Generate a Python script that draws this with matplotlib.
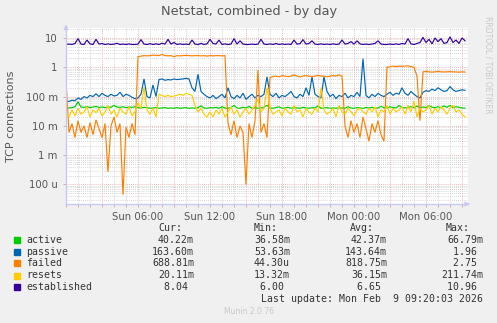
import numpy as np
import matplotlib
matplotlib.use("Agg")
import matplotlib.pyplot as plt
from matplotlib.ticker import FixedLocator, LogLocator, NullFormatter

# ---------------- data (5 series, 15-minute samples from Sun 00:00) ----------------
series_names = ["active", "passive", "failed", "resets", "established"]
series_colors = ["#00CC00", "#0066B3", "#FF8000", "#FFCC00", "#330099"]

active = [0.04, 0.041, 0.042, 0.045, 0.066, 0.044, 0.043, 0.045, 0.042, 0.044,
          0.046, 0.043, 0.044, 0.042, 0.045, 0.043, 0.05, 0.044, 0.043, 0.045,
          0.042, 0.044, 0.043, 0.045, 0.042, 0.041, 0.043, 0.042, 0.04, 0.041,
          0.042, 0.04, 0.041, 0.042, 0.04, 0.041, 0.04, 0.042, 0.04, 0.041,
          0.042, 0.04, 0.041, 0.04, 0.042, 0.048, 0.041, 0.04, 0.042, 0.041,
          0.043, 0.04, 0.045, 0.041, 0.04, 0.042, 0.05, 0.041, 0.04, 0.043,
          0.041, 0.046, 0.04, 0.042, 0.04, 0.041, 0.043, 0.05, 0.041, 0.04,
          0.042, 0.045, 0.04, 0.041, 0.043, 0.04, 0.042, 0.041, 0.04, 0.043,
          0.041, 0.04, 0.042, 0.041, 0.048, 0.04, 0.041, 0.042, 0.04, 0.041,
          0.04, 0.042, 0.041, 0.04, 0.045, 0.041, 0.04, 0.042, 0.041, 0.04,
          0.042, 0.041, 0.043, 0.04, 0.041, 0.046, 0.042, 0.041, 0.045, 0.042,
          0.041, 0.05, 0.042, 0.041, 0.043, 0.045, 0.042, 0.048, 0.041, 0.044,
          0.042, 0.05, 0.043, 0.042, 0.045, 0.042, 0.048, 0.043, 0.05, 0.042,
          0.045, 0.043, 0.041, 0.0402]

passive = [0.07, 0.068, 0.075, 0.072, 0.09, 0.08, 0.1, 0.09, 0.11, 0.1,
           0.125, 0.1, 0.13, 0.11, 0.1, 0.12, 0.105, 0.11, 0.14, 0.1,
           0.12, 0.11, 0.095, 0.085,
           0.09, 0.12, 0.4, 0.1, 0.09, 0.25, 0.1, 0.38, 0.4, 0.36,
           0.38, 0.37, 0.4, 0.38, 0.39, 0.4, 0.42, 0.4, 0.2, 0.15,
           0.58, 0.15, 0.12, 0.1,
           0.09, 0.11, 0.085, 0.1, 0.12, 0.09, 0.2, 0.1, 0.085, 0.11,
           0.09, 0.13, 0.08, 0.1, 0.12, 0.09, 0.11, 0.1, 0.12,
           0.47,
           0.12, 0.1, 0.13, 0.09, 0.11, 0.1, 0.12, 0.15, 0.1, 0.09,
           0.12, 0.1, 0.2, 0.11, 0.47, 0.12, 0.1, 0.09, 0.47, 0.15,
           0.1, 0.12, 0.085, 0.11, 0.1, 0.13, 0.09, 0.11, 0.1, 0.14,
           0.1, 1.96,
           0.11, 0.09, 0.12, 0.1, 0.13, 0.11, 0.1, 0.12, 0.14, 0.11,
           0.13, 0.12, 0.2, 0.13, 0.11, 0.15, 0.12, 0.1, 0.09, 0.14,
           0.16, 0.15, 0.18, 0.16, 0.2, 0.17, 0.15, 0.16, 0.22, 0.17,
           0.15, 0.16, 0.17, 0.1636]

failed = [0.35, 0.006, 0.012, 0.004, 0.015, 0.006, 0.010, 0.004, 0.013, 0.005,
          0.016, 0.008, 0.004, 0.012, 0.00027, 0.010, 0.020, 0.006, 0.012, 0.0000443,
          0.009, 0.004, 0.012, 0.005,
          2.3, 2.4, 2.5, 2.45, 2.5, 2.6, 2.55, 2.5, 2.75, 2.5,
          2.45, 2.5, 2.3, 2.5, 2.45, 2.5, 2.55, 2.5, 2.45, 2.5,
          2.5, 2.45, 2.5, 2.4, 2.5, 2.45, 2.5, 2.5, 2.45, 2.5,
          0.012, 0.005, 0.015, 0.004, 0.010, 0.006, 0.0001, 0.012, 0.004, 0.015,
          0.8, 0.006, 0.012, 0.004,
          0.45, 0.48, 0.5, 0.47, 0.52, 0.5, 0.48, 0.5, 0.55, 0.5,
          0.47, 0.5, 0.52, 0.5, 0.48, 0.5, 0.53, 0.5, 0.5, 0.47,
          0.5, 0.52, 0.5, 0.55, 0.5,
          0.01, 0.004, 0.015, 0.006, 0.012, 0.004, 0.02, 0.008, 0.003, 0.012,
          0.006, 0.015, 0.005, 0.003,
          1.0, 1.05, 1.1, 1.05, 1.1, 1.08, 1.1, 1.12, 1.05, 1.0,
          0.5, 0.015, 0.7, 0.72, 0.7, 0.68, 0.7, 0.72, 0.7, 0.69,
          0.7, 0.71, 0.7, 0.69, 0.68, 0.7, 0.6888]

resets = [0.03, 0.02, 0.035, 0.022, 0.04, 0.025, 0.03, 0.045, 0.02, 0.035,
          0.028, 0.04, 0.022, 0.03, 0.05, 0.025, 0.035, 0.02, 0.04, 0.03,
          0.025, 0.045, 0.022, 0.03,
          0.06, 0.04, 0.21, 0.035, 0.025, 0.04, 0.02, 0.12, 0.11, 0.1,
          0.11, 0.1, 0.105, 0.11, 0.12, 0.11, 0.13, 0.12, 0.11, 0.05,
          0.03, 0.04, 0.025, 0.02,
          0.03, 0.02, 0.035, 0.025, 0.04, 0.02, 0.03, 0.045, 0.025, 0.035,
          0.02, 0.03, 0.04, 0.025, 0.035, 0.05, 0.08, 0.03, 0.04, 0.2,
          0.04, 0.025, 0.03, 0.035, 0.022, 0.04, 0.03, 0.025, 0.05, 0.03,
          0.035, 0.02, 0.04, 0.03, 0.025, 0.04, 0.03, 0.2, 0.035, 0.025,
          0.03, 0.04, 0.02, 0.05, 0.03, 0.025, 0.04, 0.03, 0.022, 0.035,
          0.04, 0.03,
          0.025, 0.04, 0.03, 0.045, 0.02, 0.035, 0.03, 0.05, 0.025, 0.04,
          0.03, 0.035, 0.045, 0.025, 0.05, 0.03, 0.07, 0.02, 0.04, 0.03,
          0.035, 0.05, 0.025, 0.04, 0.03, 0.045, 0.035, 0.025, 0.04, 0.05,
          0.03, 0.035, 0.025, 0.0201]

established = [6.0, 6.2, 6.0, 6.5, 9.5, 6.2, 6.0, 8.5, 6.3, 6.0,
               9.0, 6.2, 6.5, 6.0, 6.3, 6.0, 6.2, 6.6, 6.0, 6.2,
               6.0, 6.3, 6.0, 6.0, 6.2, 8.8, 6.2, 6.0, 6.4, 6.0,
               6.3, 6.0, 6.6, 6.2, 9.0, 6.2, 7.0, 6.0, 6.3, 6.0,
               6.2, 6.0, 8.5, 6.2, 6.0, 6.5, 6.0, 6.3, 9.0, 6.5,
               6.2, 8.5, 6.0, 6.3, 6.0, 6.2, 9.5, 6.2, 8.0, 6.2,
               6.0, 6.0, 6.2, 6.0, 6.2, 9.0, 6.2, 6.0, 6.3, 6.0,
               6.5, 6.0, 6.3, 6.0, 6.2, 6.0, 8.5, 6.2, 6.4, 8.8,
               6.2, 6.5, 8.0, 6.2, 6.0, 6.3, 6.0, 6.2, 6.0, 6.3,
               6.0, 6.2, 8.5, 6.2, 6.5, 7.5, 6.2, 8.0, 6.3, 6.0,
               6.2, 6.0, 6.2, 6.5, 8.0, 6.2, 6.0, 6.0, 6.2, 6.0,
               6.3, 6.0, 6.5, 6.2, 9.5, 6.3, 6.0, 6.5, 7.0, 10.5,
               7.0, 9.0, 6.3, 10.0, 7.5, 9.5, 6.5, 7.0, 10.96, 7.0,
               8.5, 6.5, 10.0, 8.04]

# x tick labels (hours since Sun 00:00)
tick_hours = [6, 12, 18, 24, 30]
tick_labels = ["Sun 06:00", "Sun 12:00", "Sun 18:00", "Mon 00:00", "Mon 06:00"]

# y tick labels
ytick_vals = [1e-4, 1e-3, 1e-2, 1e-1, 1, 10]
ytick_labels = ["100 u", "1 m", "10 m", "100 m", "1", "10"]

# legend table
cur_vals = ["40.22m", "163.60m", "688.81m", "20.11m", "8.04 "]
min_vals = ["36.58m", "53.63m", "44.30u", "13.32m", "6.00 "]
avg_vals = ["42.37m", "143.64m", "818.75m", "36.15m", "6.65 "]
max_vals = ["66.79m", "1.96 ", "2.75 ", "211.74m", "10.96 "]

sample_step_h = 0.25

# ---------------- figure ----------------
W, H = 497, 323
DPI = 100
fig = plt.figure(figsize=(W / DPI, H / DPI), dpi=DPI, facecolor="#F0F0F0")

px_l, px_r, px_t, px_b = 66, 468, 28, 204
ax = fig.add_axes([px_l / W, 1 - px_b / H, (px_r - px_l) / W, (px_b - px_t) / H])
ax.set_facecolor("white")

t = np.arange(len(active)) * sample_step_h
data = {"active": active, "passive": passive, "failed": failed,
        "resets": resets, "established": established}
for name, col in zip(series_names, series_colors):
    ax.plot(t, data[name], color=col, lw=0.85, solid_joinstyle="miter")

ax.set_yscale("log")
ax.set_ylim(2.16e-5, 21.9)
ax.set_xlim(0, (px_r - px_l) / 12.0)

# grid
minor_col = "#C8C8C8"
major_col = "#E8A0A0"
ax.xaxis.set_major_locator(FixedLocator(np.arange(0, 34, 3)))
ax.xaxis.set_minor_locator(FixedLocator(np.arange(0, 34, 1)))
ax.yaxis.set_major_locator(FixedLocator(ytick_vals))
ax.yaxis.set_minor_locator(LogLocator(base=10, subs=np.arange(2, 10)))
ax.yaxis.set_minor_formatter(NullFormatter())
ax.set_yticklabels(ytick_labels)
ax.set_xticklabels(["" for _ in np.arange(0, 34, 3)])
ax.grid(True, which="minor", color=minor_col, lw=0.6, linestyle=(0, (1, 1.5)))
ax.grid(True, which="major", color=major_col, lw=0.6, linestyle=(0, (1, 1.5)))
ax.set_axisbelow(True)

for sp in ["top", "right"]:
    ax.spines[sp].set_visible(False)
for sp in ["left", "bottom"]:
    ax.spines[sp].set_color("#C8C8F0")
    ax.spines[sp].set_linewidth(1.0)

ax.tick_params(which="both", length=2, width=0.6, color="#C8A0A0", labelsize=7.3,
               labelcolor="#555555", pad=4)
ax.tick_params(axis="x", which="major", labelbottom=False)
ax.tick_params(axis="y", which="minor", length=0)

# x labels at 6h
for h, lab in zip(tick_hours, tick_labels):
    ax.text(h, -0.045, lab, transform=ax.get_xaxis_transform(), ha="center", va="top",
            fontsize=7.3, color="#555555", family="DejaVu Sans")

# arrows
ax.annotate("", xy=(1.012, 0), xycoords="axes fraction", xytext=(0.99, 0),
            arrowprops=dict(arrowstyle="-|>", color="#C8C8F0", lw=0.8, mutation_scale=7),
            annotation_clip=False)
ax.annotate("", xy=(0, 1.035), xycoords="axes fraction", xytext=(0, 0.99),
            arrowprops=dict(arrowstyle="-|>", color="#C8C8F0", lw=0.8, mutation_scale=7),
            annotation_clip=False)

# titles
fig.text(249 / W, 1 - 12 / H, "Netstat, combined - by day", ha="center", va="center",
         fontsize=9.3, color="#555555")
fig.text(11 / W, 1 - 116 / H, "TCP connections", rotation=90, ha="center", va="center",
         fontsize=8, color="#555555")
fig.text(488 / W, 1 - 65 / H, "RRDTOOL / TOBI OETIKER", rotation=270, ha="center",
         va="center", fontsize=5.5, color="#C8C8C8")
fig.text(249 / W, 1 - 312 / H, "Munin 2.0.76", ha="center", va="center",
         fontsize=5.5, color="#C8C8C8")

# legend table
mono = "DejaVu Sans Mono"
fs = 7.1
tc = "#333333"
row_y = [240, 251.7, 263.3, 275.5, 287.3]
fig.text(182 / W, 1 - 228 / H, "Cur:", ha="right", va="center", family=mono, fontsize=fs, color=tc)
fig.text(278 / W, 1 - 228 / H, "Min:", ha="right", va="center", family=mono, fontsize=fs, color=tc)
fig.text(374 / W, 1 - 228 / H, "Avg:", ha="right", va="center", family=mono, fontsize=fs, color=tc)
fig.text(470 / W, 1 - 228 / H, "Max:", ha="right", va="center", family=mono, fontsize=fs, color=tc)
for i, (name, col) in enumerate(zip(series_names, series_colors)):
    y = 1 - row_y[i] / H
    fig.patches.append(plt.Rectangle((14 / W, y - 3 / H), 6 / W, 6 / H, transform=fig.transFigure,
                                     color=col, figure=fig))
    fig.text(26 / W, y, name, ha="left", va="center", family=mono, fontsize=fs, color=tc)
    fig.text(194 / W, y, cur_vals[i], ha="right", va="center", family=mono, fontsize=fs, color=tc)
    fig.text(290 / W, y, min_vals[i], ha="right", va="center", family=mono, fontsize=fs, color=tc)
    fig.text(387 / W, y, avg_vals[i], ha="right", va="center", family=mono, fontsize=fs, color=tc)
    fig.text(483 / W, y, max_vals[i], ha="right", va="center", family=mono, fontsize=fs, color=tc)
fig.text(483 / W, 1 - 299.3 / H, "Last update: Mon Feb  9 09:20:03 2026", ha="right", va="center",
         family=mono, fontsize=fs, color=tc)

fig.savefig("out.png", dpi=DPI, facecolor=fig.get_facecolor())
